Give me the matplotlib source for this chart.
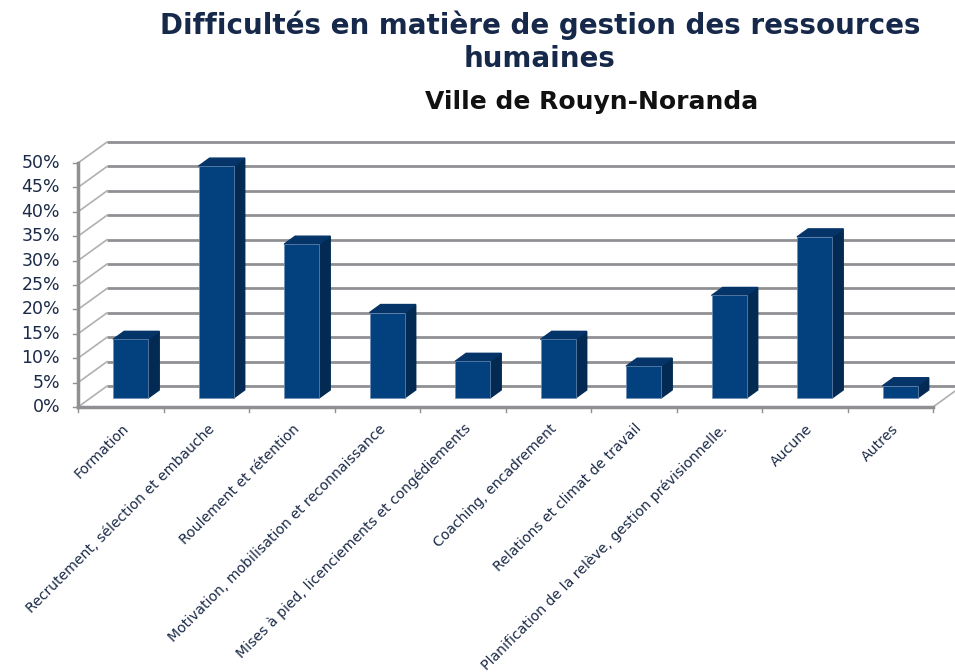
import numpy as np
import matplotlib
matplotlib.use("Agg")
import matplotlib.pyplot as plt

# données (pourcentages)
categories = ["Formation",
              "Recrutement, sélection et embauche",
              "Roulement et rétention",
              "Motivation, mobilisation et reconnaissance",
              "Mises à pied, licenciements et congédiements",
              "Coaching, encadrement",
              "Relations et climat de travail",
              "Planification de la relève, gestion prévisionnelle.",
              "Aucune",
              "Autres"]
valeurs = [12, 47.5, 31.5, 17.5, 7.5, 12, 6.5, 21, 33, 2.5]
graduations = [0, 5, 10, 15, 20, 25, 30, 35, 40, 45, 50]
etiquettes_y = [f"{g}%" for g in graduations]

titre = "Difficultés en matière de gestion des ressources\nhumaines"
sous_titre = "Ville de Rouyn-Noranda"

# effet 3D "à la Excel"
DX, DY = 0.34, 4.3        # profondeur du mur du fond
SX, SY = 0.13, 1.65       # profondeur des barres
BASE = 1.85               # bas de la face avant des barres
DECAL, LARG = 0.41, 0.41  # position de la face avant dans la catégorie

c_face = "#03407E"
c_cote = "#022A52"
c_dessus = "#053468"
c_grille = "#8E9094"
c_texte = "#1B2A48"

fig = plt.figure(figsize=(9.55, 6.72), dpi=100)
ax = fig.add_axes([0, 0, 1, 1])
# échelle : x=0 -> 78 px, 1 catégorie = 85.5 px ; y=0 -> 407 px depuis le haut, 1% = 4.88 px
ax.set_xlim(-78 / 85.5, (955 - 78) / 85.5)
ax.set_ylim(-265 / 4.88, (672 - 265) / 4.88)
ax.axis("off")

n = len(categories)

# mur du fond + mur de gauche
for g in graduations:
    ax.plot([DX, n + DX], [g + DY, g + DY], color=c_grille, lw=2, solid_capstyle="butt", zorder=1)
    ax.plot([0, DX], [g, g + DY], color="#B0B0B0", lw=1.2, zorder=1)
    ax.plot([-0.06, 0], [g, g], color=c_grille, lw=1, zorder=2)
ax.plot([n, n + DX], [0, DY], color="#B0B0B0", lw=1.2, zorder=1)

# axes avant
ax.plot([0, 0], [0, graduations[-1]], color=c_grille, lw=2.5, zorder=2)
ax.plot([0, n], [0, 0], color=c_grille, lw=2.5, zorder=2)
for i in range(n + 1):
    ax.plot([i, i], [0, -1.1], color=c_grille, lw=1, zorder=2)

for g, lab in zip(graduations, etiquettes_y):
    ax.text(-0.21, g, lab, ha="right", va="center", fontsize=12.5, color=c_texte)

# barres
x = np.arange(n)
xl = x + DECAL
xr = xl + LARG
ax.bar(xl, valeurs, width=LARG, bottom=BASE, align="edge", color=c_face,
       edgecolor="#6F8DB5", linewidth=0.5, zorder=4)
for a, b, v in zip(xl, xr, valeurs):
    haut = BASE + v
    ax.fill([b, b + SX, b + SX, b], [BASE, BASE + SY, haut + SY, haut],
            color=c_cote, zorder=3)
    ax.fill([a, a + SX, b + SX, b], [haut, haut + SY, haut + SY, haut],
            color=c_dessus, zorder=3)

# étiquettes des catégories
for i, lab in enumerate(categories):
    ax.text(i + 0.5 + 0.07, -4.0, lab, rotation=45, rotation_mode="anchor",
            ha="right", va="center", fontsize=10.1, color=c_texte)

fig.text(540 / 955, 1 - 10 / 672, titre, ha="center", va="top", fontsize=20,
         fontweight="bold", color="#17294A", linespacing=1.25)
fig.text(592 / 955, 1 - 102 / 672, sous_titre, ha="center", va="center",
         fontsize=18, fontweight="bold", color="#111111")

fig.savefig("out.png", dpi=100)
